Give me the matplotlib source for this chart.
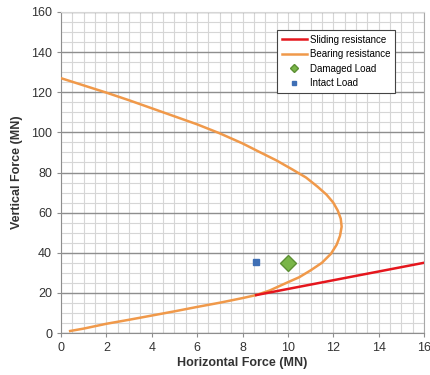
import matplotlib
matplotlib.use("Agg")
import matplotlib.pyplot as plt
from matplotlib.ticker import MultipleLocator

plt.rcParams['font.family'] = ['Liberation Sans', 'DejaVu Sans']

# Bearing resistance envelope (H, V)
bearing_h = [0.4, 1.0, 2.0, 3.0, 4.0, 5.0, 6.0, 7.0, 8.0, 8.6, 9.2, 9.9, 10.5, 11.0,
             11.5, 11.9, 12.15, 12.3, 12.37, 12.33, 12.2, 12.0, 11.7, 11.3, 10.8,
             10.2, 9.5, 8.7, 8.0, 7.0, 6.0, 5.0, 4.0, 3.0, 2.0, 1.0, 0.0]
bearing_v = [1.0, 2.2, 4.6, 6.6, 8.7, 10.8, 13.0, 15.1, 17.4, 18.9, 21.2, 24.8, 27.8, 31.2,
             35.0, 39.5, 44.0, 48.5, 53.0, 57.0, 61.0, 65.0, 69.0, 73.0, 77.5,
             81.5, 86.0, 90.5, 94.5, 99.5, 104.0, 108.0, 112.0, 116.0, 119.8, 123.4, 127.0]

# Sliding resistance
sliding_h = [8.6, 16.0]
sliding_v = [18.9, 35.0]

# Load points
damaged_h, damaged_v = [10.0], [35.0]
intact_h, intact_v = [8.6], [35.5]

fig = plt.figure(figsize=(4.3, 3.75), dpi=100)
ax = fig.add_axes([0.142, 0.112, 0.844, 0.856])

ax.plot(sliding_h, sliding_v, color='#e5161d', lw=1.8, label='Sliding resistance', zorder=4)
ax.plot(bearing_h, bearing_v, color='#f0994a', lw=1.8, label='Bearing resistance', zorder=3,
        solid_joinstyle='round')
ax.plot(damaged_h, damaged_v, ls='none', marker='D', ms=8, mfc='#7ab648',
        mec='#5d8f34', label='Damaged Load', zorder=5)
ax.plot(intact_h, intact_v, ls='none', marker='s', ms=5, mfc='#3f6fb5',
        mec='#3f6fb5', label='Intact Load', zorder=5)

ax.set_xlim(0, 16)
ax.set_ylim(0, 160)
ax.xaxis.set_major_locator(MultipleLocator(2))
ax.xaxis.set_minor_locator(MultipleLocator(0.5))
ax.yaxis.set_major_locator(MultipleLocator(20))
ax.yaxis.set_minor_locator(MultipleLocator(5))
ax.grid(which='minor', color='#d6d6d6', lw=0.8)
ax.xaxis.grid(which='major', color='#d6d6d6', lw=0.8)
ax.yaxis.grid(which='major', color='#8e8e8e', lw=1.0)
ax.set_axisbelow(True)

# top edge of the plot area is light in the original
for tick in ax.yaxis.get_major_ticks():
    if abs(tick.get_loc() - 160) < 1e-6:
        tick.gridline.set_color('#d6d6d6')

ax.spines['left'].set_color('#8e8e8e')
ax.spines['bottom'].set_color('#8e8e8e')
ax.spines['top'].set_color('#d6d6d6')
ax.spines['right'].set_color('#a8a8a8')
ax.tick_params(which='major', direction='out', length=3, color='#8e8e8e',
               labelsize=9, labelcolor='#333333')
ax.tick_params(which='minor', length=0)

ax.set_xlabel('Horizontal Force (MN)', fontsize=9, fontweight='bold', color='#333333', labelpad=2)
ax.set_ylabel('Vertical Force (MN)', fontsize=9, fontweight='bold', color='#333333', labelpad=6)

handles, labels = ax.get_legend_handles_labels()
leg = ax.legend(handles, labels, loc='upper left', bbox_to_anchor=(0.595, 0.944),
                borderaxespad=0, fontsize=7, frameon=True, fancybox=False, framealpha=1,
                edgecolor='#444444', borderpad=0.5, labelspacing=0.45,
                handlelength=2.6, handletextpad=0.3, markerscale=0.5)
leg.get_frame().set_linewidth(0.8)

fig.savefig('out.png', dpi=100)
